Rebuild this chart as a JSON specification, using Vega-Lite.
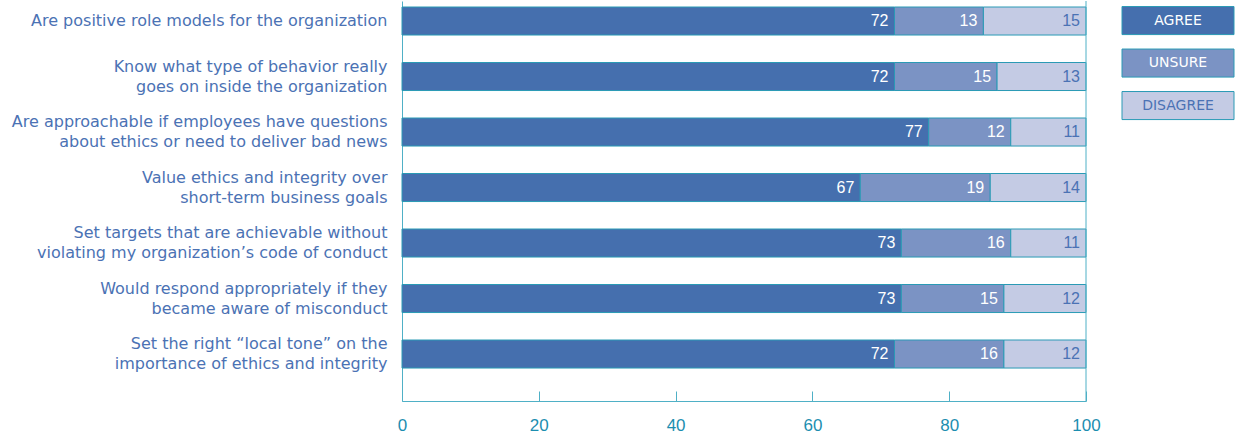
{
  "$schema": "https://vega.github.io/schema/vega-lite/v6.json",
  "padding": 0,
  "spacing": 20,
  "config": {"view": {"stroke": null}, "font": "Liberation Sans"},
  "hconcat": [
    {
      "width": 684,
      "height": 400,
      "data": {"values": [
        {"question": "Are positive role models for the organization", "response": "AGREE", "ord": 1, "value": 72},
        {"question": "Are positive role models for the organization", "response": "UNSURE", "ord": 2, "value": 13},
        {"question": "Are positive role models for the organization", "response": "DISAGREE", "ord": 3, "value": 15},
        {"question": "Know what type of behavior really|goes on inside the organization", "response": "AGREE", "ord": 1, "value": 72},
        {"question": "Know what type of behavior really|goes on inside the organization", "response": "UNSURE", "ord": 2, "value": 15},
        {"question": "Know what type of behavior really|goes on inside the organization", "response": "DISAGREE", "ord": 3, "value": 13},
        {"question": "Are approachable if employees have questions|about ethics or need to deliver bad news", "response": "AGREE", "ord": 1, "value": 77},
        {"question": "Are approachable if employees have questions|about ethics or need to deliver bad news", "response": "UNSURE", "ord": 2, "value": 12},
        {"question": "Are approachable if employees have questions|about ethics or need to deliver bad news", "response": "DISAGREE", "ord": 3, "value": 11},
        {"question": "Value ethics and integrity over|short-term business goals", "response": "AGREE", "ord": 1, "value": 67},
        {"question": "Value ethics and integrity over|short-term business goals", "response": "UNSURE", "ord": 2, "value": 19},
        {"question": "Value ethics and integrity over|short-term business goals", "response": "DISAGREE", "ord": 3, "value": 14},
        {"question": "Set targets that are achievable without|violating my organization’s code of conduct", "response": "AGREE", "ord": 1, "value": 73},
        {"question": "Set targets that are achievable without|violating my organization’s code of conduct", "response": "UNSURE", "ord": 2, "value": 16},
        {"question": "Set targets that are achievable without|violating my organization’s code of conduct", "response": "DISAGREE", "ord": 3, "value": 11},
        {"question": "Would respond appropriately if they|became aware of misconduct", "response": "AGREE", "ord": 1, "value": 73},
        {"question": "Would respond appropriately if they|became aware of misconduct", "response": "UNSURE", "ord": 2, "value": 15},
        {"question": "Would respond appropriately if they|became aware of misconduct", "response": "DISAGREE", "ord": 3, "value": 12},
        {"question": "Set the right “local tone” on the|importance of ethics and integrity", "response": "AGREE", "ord": 1, "value": 72},
        {"question": "Set the right “local tone” on the|importance of ethics and integrity", "response": "UNSURE", "ord": 2, "value": 16},
        {"question": "Set the right “local tone” on the|importance of ethics and integrity", "response": "DISAGREE", "ord": 3, "value": 12}
      ]},
      "transform": [
        {"stack": "value", "groupby": ["question"], "sort": [{"field": "ord", "order": "ascending"}], "as": ["x0", "x1"]}
      ],
      "layer": [
        {
          "mark": {"type": "bar", "stroke": "#2a9ab5", "strokeWidth": 1},
          "encoding": {
            "y": {
              "field": "question", "type": "nominal", "sort": null,
              "scale": {"paddingInner": 0.495, "paddingOuter": 0.351, "align": 0.154},
              "axis": {
                "title": null, "ticks": false, "labelPadding": 15, "labelFontSize": 16, "labelFont": "DejaVu Sans",
                "labelColor": "#4b72b4", "labelExpr": "split(datum.label, '|')", "labelLineHeight": 20,
                "labelOffset": {"condition": {"test": "indexof(datum.value, '|') >= 0", "value": -10}, "value": 0},
                "domainColor": "#4fb0c6", "minExtent": 402, "maxExtent": 402, "labelLimit": 420
              }
            },
            "x": {
              "field": "x0", "type": "quantitative", "scale": {"domain": [0, 100], "nice": false},
              "axis": {
                "title": null, "values": [0, 20, 40, 60, 80, 100], "grid": false,
                "domainColor": "#4fb0c6", "tickColor": "#4fb0c6", "tickSize": -10,
                "labelColor": "#1c8eb0", "labelFontSize": 17, "labelPadding": 26, "labelFlush": false
              }
            },
            "x2": {"field": "x1"},
            "color": {
              "field": "response", "type": "nominal",
              "scale": {"domain": ["AGREE", "UNSURE", "DISAGREE"], "range": ["#456fae", "#7b93c4", "#c4cbe4"]},
              "legend": null
            }
          }
        },
        {
          "mark": {"type": "text", "align": "right", "dx": -6, "fontSize": 16, "baseline": "middle"},
          "encoding": {
            "y": {"field": "question", "type": "nominal", "sort": null},
            "x": {"field": "x1", "type": "quantitative"},
            "text": {"field": "value"},
            "color": {"condition": {"test": "datum.response === 'DISAGREE'", "value": "#4b72b4"}, "value": "#ffffff"}
          }
        },
        {
          "data": {"values": [{"edge": 100}]},
          "mark": {"type": "rule", "color": "#4fb0c6", "strokeWidth": 1},
          "encoding": {"x": {"field": "edge", "type": "quantitative"}}
        }
      ]
    },
    {
      "width": 112,
      "height": 128,
      "data": {"values": [
        {"r": "AGREE", "ord": 1},
        {"r": "UNSURE", "ord": 2},
        {"r": "DISAGREE", "ord": 3}
      ]},
      "layer": [
        {
          "mark": {"type": "bar", "stroke": "#2a9ab5", "strokeWidth": 1},
          "encoding": {
            "y": {"field": "r", "type": "nominal", "sort": null, "axis": null,
                  "scale": {"paddingInner": 0.34, "paddingOuter": 0.176, "align": 0.37}},
            "x": {"datum": 0, "type": "quantitative", "scale": {"domain": [0, 1]}, "axis": null},
            "x2": {"datum": 1},
            "color": {
              "field": "r", "type": "nominal",
              "scale": {"domain": ["AGREE", "UNSURE", "DISAGREE"], "range": ["#456fae", "#7b93c4", "#c4cbe4"]},
              "legend": null
            }
          }
        },
        {
          "mark": {"type": "text", "fontSize": 14, "font": "DejaVu Sans", "align": "center", "baseline": "middle"},
          "encoding": {
            "y": {"field": "r", "type": "nominal", "sort": null},
            "x": {"datum": 0.5, "type": "quantitative"},
            "text": {"field": "r"},
            "color": {"condition": {"test": "datum.r === 'DISAGREE'", "value": "#4b72b4"}, "value": "#ffffff"}
          }
        }
      ]
    }
  ]
}
